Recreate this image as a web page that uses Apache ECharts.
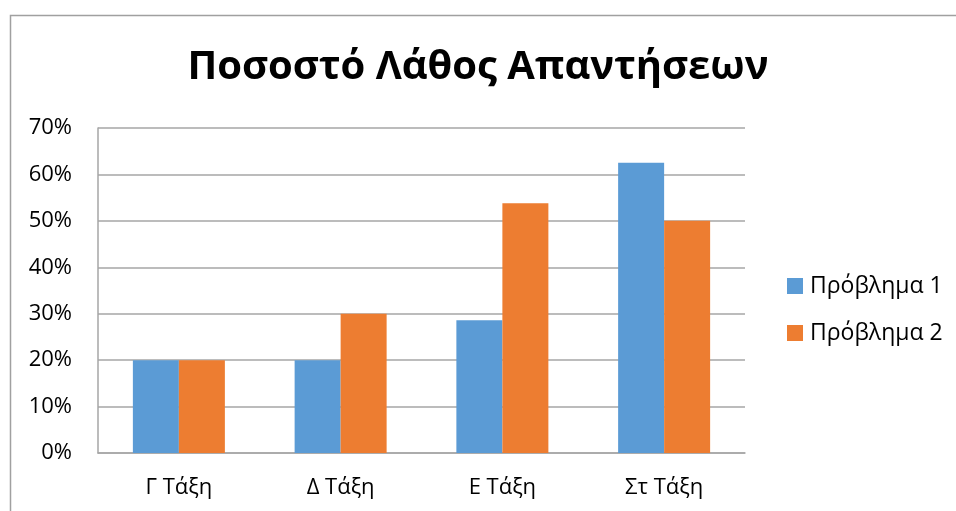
<!DOCTYPE html>
<html><head><meta charset="utf-8">
<script src="https://cdn.jsdelivr.net/npm/echarts@6/dist/echarts.min.js"></script>
<style>html,body{margin:0;padding:0;background:#fff}#c{width:956px;height:511px}</style>
</head><body><div id="c"></div>
<script>
const categories = ['Γ Τάξη', 'Δ Τάξη', 'Ε Τάξη', 'Στ Τάξη'];
const seriesNames = ['Πρόβλημα 1', 'Πρόβλημα 2'];
const problem1 = [20, 20, 28.6, 62.5];
const problem2 = [20, 30, 53.8, 50];
const titleText = 'Ποσοστό Λάθος Απαντήσεων';
const FONT = 'Open Sans';
const chart = echarts.init(document.getElementById('c'));
chart.setOption({
  animation: false,
  backgroundColor: '#fff',
  title: { text: titleText, left: 'center', top: 43,
    textStyle: { fontFamily: FONT, fontWeight: 'bold', fontSize: 40, color: '#000' } },
  graphic: [{ type: 'rect', shape: { x: 10.5, y: 15.5, width: 1000, height: 1000 },
    style: { fill: 'none', stroke: '#a0a0a0', lineWidth: 1.5 }, silent: true }],
  legend: { orient: 'vertical', left: 787, top: 274, padding: 0, itemWidth: 16, itemHeight: 16, itemGap: 23,
    icon: 'rect', data: seriesNames,
    textStyle: { fontFamily: FONT, fontSize: 23, lineHeight: 24, color: '#000', padding: [0, 0, 0, 2] } },
  grid: { left: 98, right: 211, top: 128, bottom: 58, containLabel: false },
  xAxis: { type: 'category', data: categories,
    axisLine: { show: true, lineStyle: { color: '#a6a6a6', width: 1.5 } },
    axisTick: { show: false },
    axisLabel: { fontFamily: FONT, fontSize: 22, color: '#000', margin: 24 } },
  yAxis: { type: 'value', min: 0, max: 70, interval: 10,
    axisLine: { show: true, lineStyle: { color: '#a6a6a6', width: 1.5 } },
    axisTick: { show: false },
    splitLine: { lineStyle: { color: '#a6a6a6', width: 1.5 } },
    axisLabel: { fontFamily: FONT, fontSize: 22, color: '#000', margin: 26, formatter: v => v + '%' } },
  series: [
    { name: seriesNames[0], type: 'bar', data: problem1, barWidth: 46, barGap: '0%',
      itemStyle: { color: '#5B9BD5' } },
    { name: seriesNames[1], type: 'bar', data: problem2, barWidth: 46, barGap: '0%',
      itemStyle: { color: '#ED7D31' } }
  ]
});
</script></body></html>
